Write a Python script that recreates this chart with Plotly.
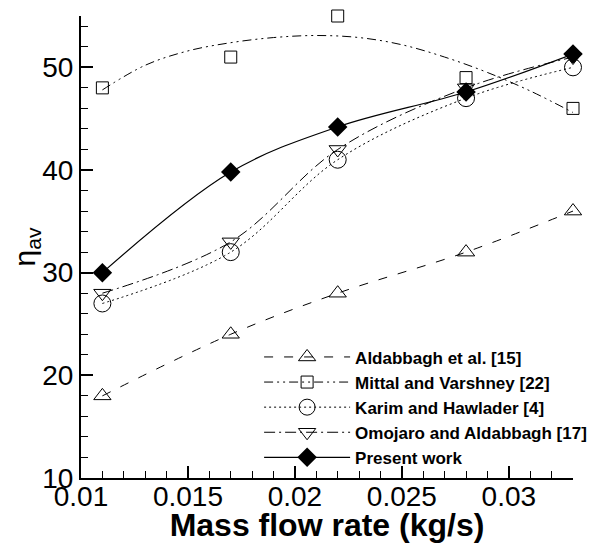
import plotly.graph_objects as go

mass_flow = [0.011, 0.017, 0.022, 0.028, 0.033]
aldabbagh = [18, 24, 28, 32, 36]
mittal = [48, 51, 55, 49, 46]
karim = [27, 32, 41, 47, 50]
omojaro = [28, 33, 42, 48, 51]
present = [30.0, 39.8, 44.2, 47.6, 51.3]

# fitted curve drawn for Mittal and Varshney
mittal_fit_x = [0.011, 0.013, 0.015, 0.017, 0.019, 0.021, 0.023, 0.025, 0.027, 0.029, 0.031, 0.033]
mittal_fit_y = [47.8, 50.2, 51.6, 52.4, 52.9, 53.1, 52.9, 52.2, 51.0, 49.5, 47.7, 45.6]

x_ticks = [0.01, 0.015, 0.02, 0.025, 0.03]
x_tick_labels = ["0.01", "0.015", "0.02", "0.025", "0.03"]
y_ticks = [10, 20, 30, 40, 50]
y_tick_labels = ["10", "20", "30", "40", "50"]

FONT = "Arial, Liberation Sans, sans-serif"
BLACK = "black"

fig = go.Figure()

# Aldabbagh et al.
fig.add_trace(go.Scatter(
    x=mass_flow, y=aldabbagh, mode="lines+markers", name="Aldabbagh et al. [15]",
    line=dict(color=BLACK, width=1, dash="9px,11px", shape="spline"),
    marker=dict(symbol="triangle-up-open", size=15, color=BLACK, line=dict(width=1)),
    cliponaxis=False))

# Mittal and Varshney: fitted curve + points
fig.add_trace(go.Scatter(
    x=mittal_fit_x, y=mittal_fit_y, mode="lines", showlegend=False,
    line=dict(color=BLACK, width=1, dash="9px,4px,2px,4px,2px,4px", shape="spline"),
    legendgroup="mittal", cliponaxis=False))
fig.add_trace(go.Scatter(
    x=mass_flow, y=mittal, mode="markers", showlegend=False,
    marker=dict(symbol="square-open", size=12, color=BLACK, line=dict(width=1)),
    legendgroup="mittal", cliponaxis=False))
fig.add_trace(go.Scatter(
    x=[None], y=[None], mode="lines+markers", name="Mittal and Varshney [22]",
    line=dict(color=BLACK, width=1, dash="9px,4px,2px,4px,2px,4px"),
    marker=dict(symbol="square-open", size=12, color=BLACK, line=dict(width=1)),
    legendgroup="mittal"))

# Karim and Hawlader
fig.add_trace(go.Scatter(
    x=mass_flow, y=karim, mode="lines+markers", name="Karim and Hawlader [4]",
    line=dict(color=BLACK, width=1, dash="2px,3px", shape="spline"),
    marker=dict(symbol="circle-open", size=17, color=BLACK, line=dict(width=1)),
    cliponaxis=False))

# Omojaro and Aldabbagh
fig.add_trace(go.Scatter(
    x=mass_flow, y=omojaro, mode="lines+markers", name="Omojaro and Aldabbagh [17]",
    line=dict(color=BLACK, width=1, dash="11px,4px,2px,4px", shape="spline"),
    marker=dict(symbol="triangle-down-open", size=15, color=BLACK, line=dict(width=1)),
    cliponaxis=False))

# Present work
fig.add_trace(go.Scatter(
    x=mass_flow, y=present, mode="lines+markers", name="Present work",
    line=dict(color=BLACK, width=1.2, shape="spline"),
    marker=dict(symbol="diamond", size=15, color=BLACK),
    cliponaxis=False))

# The page adds an 8px body margin; the figure is sized so that it fills the window.
fig.update_layout(
    width=592, height=535,
    margin=dict(l=73, r=16, t=8, b=65),
    paper_bgcolor="white", plot_bgcolor="white",
    font=dict(family=FONT, color=BLACK),
    showlegend=True,
    legend=dict(
        x=0.362, y=0.30, xanchor="left", yanchor="top",
        bgcolor="rgba(0,0,0,0)", borderwidth=0,
        font=dict(family=FONT, size=17, color=BLACK, weight="bold"),
        itemwidth=86, tracegroupgap=0,
    ),
    xaxis=dict(
        range=[0.01, 0.033], showgrid=False, zeroline=False, automargin=False,
        showline=True, linecolor=BLACK, linewidth=2,
        tickmode="array", tickvals=x_ticks, ticktext=x_tick_labels,
        ticks="inside", ticklen=12, tickwidth=1.5, tickcolor=BLACK,
        tickfont=dict(family=FONT, size=28, color=BLACK),
        ticklabelstandoff=-8,
        minor=dict(ticks="inside", ticklen=7, tickwidth=1, tickcolor=BLACK,
                   tick0=0.01, dtick=0.001, showgrid=False),
        title=dict(text="Mass flow rate (kg/s)", standoff=0,
                   font=dict(family=FONT, size=32, color=BLACK, weight="bold")),
    ),
    yaxis=dict(
        range=[10, 55], showgrid=False, zeroline=False, automargin=False,
        showline=True, linecolor=BLACK, linewidth=2,
        tickmode="array", tickvals=y_ticks, ticktext=y_tick_labels,
        ticks="inside", ticklen=12, tickwidth=1.5, tickcolor=BLACK,
        tickfont=dict(family=FONT, size=28, color=BLACK),
        minor=dict(ticks="inside", ticklen=7, tickwidth=1, tickcolor=BLACK,
                   tick0=10, dtick=2, showgrid=False),
        title=dict(text="η<sub>av</sub>", standoff=9,
                   font=dict(family=FONT, size=30, color=BLACK)),
    ),
)

fig.write_html("out.html")
